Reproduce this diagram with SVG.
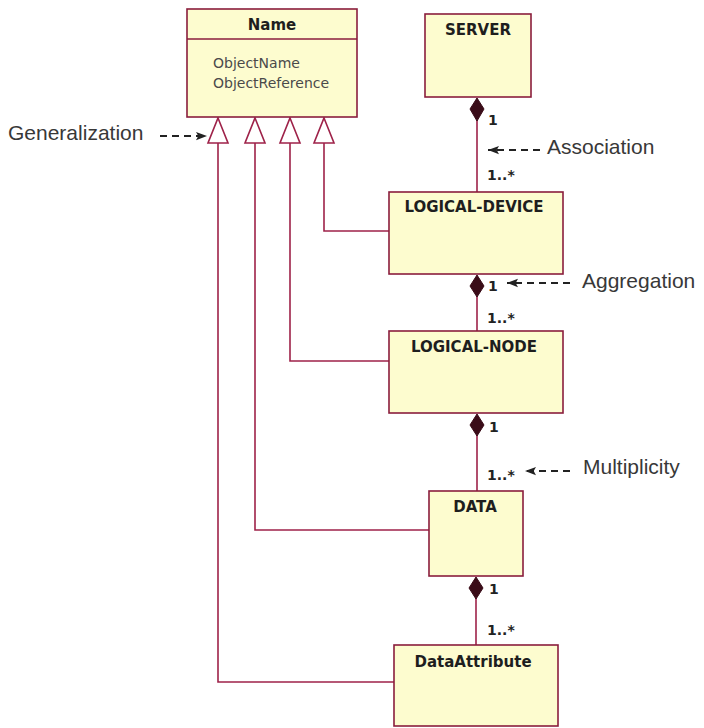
<svg xmlns="http://www.w3.org/2000/svg" width="704" height="728" viewBox="0 0 704 728">
  <defs>
    <style>
      .box { fill: #fdfccf; stroke: #8a1d3c; stroke-width: 1.6; }
      .title { font-family: "DejaVu Sans", "Liberation Sans", sans-serif; font-weight: bold; font-size: 15px; fill: #1e1e1e; text-anchor: middle; }
      .attr { font-family: "DejaVu Sans", "Liberation Sans", sans-serif; font-size: 14px; fill: #4a4a4a; }
      .link { fill: none; stroke: #9e2249; stroke-width: 1.6; }
      .tri { fill: #ffffff; stroke: #9e2249; stroke-width: 1.6; }
      .dia { fill: #3a0c18; stroke: #3a0c18; stroke-width: 1; }
      .mult { font-family: "DejaVu Sans", "Liberation Sans", sans-serif; font-weight: bold; font-size: 14px; fill: #222222; }
      .note { font-family: "Liberation Sans", Arial, sans-serif; font-size: 21px; fill: #383838; }
      .pointer { fill: none; stroke: #222222; stroke-width: 1.8; stroke-dasharray: 7 5; }
    </style>
    <marker id="head" viewBox="0 0 12 10" refX="12" refY="5" markerWidth="11" markerHeight="10" markerUnits="userSpaceOnUse" orient="auto">
      <path d="M0,0.5 L12,5 L0,9.5 L2.5,5 Z" fill="#222222"/>
    </marker>
  </defs>

  <rect width="704" height="728" fill="#ffffff"/>

  <!-- connectors -->
  <g id="connectors">
    <!-- generalization paths into Name -->
    <path class="link" d="M394,682 H218 V143"/>
    <path class="link" d="M429,530 H255 V143"/>
    <path class="link" d="M389,361 H290 V143"/>
    <path class="link" d="M389,231 H324 V143"/>
    <polygon class="tri" points="218,118 228,143 208,143"/>
    <polygon class="tri" points="255,118 265,143 245,143"/>
    <polygon class="tri" points="290,118 300,143 280,143"/>
    <polygon class="tri" points="324,118 334,143 314,143"/>

    <!-- composition: SERVER / LOGICAL-DEVICE -->
    <path class="link" d="M477,120 V192"/>
    <polygon class="dia" points="477,98 484,109 477,121 470,109"/>
    <text class="mult" x="488" y="125">1</text>
    <text class="mult" x="487" y="180">1..*</text>

    <!-- composition: LOGICAL-DEVICE / LOGICAL-NODE -->
    <path class="link" d="M477,296 V331"/>
    <polygon class="dia" points="477,275 484,286 477,297 470,286"/>
    <text class="mult" x="488" y="291">1</text>
    <text class="mult" x="487" y="323">1..*</text>

    <!-- composition: LOGICAL-NODE / DATA -->
    <path class="link" d="M477,435 V491"/>
    <polygon class="dia" points="477,414 484,425 477,436 470,425"/>
    <text class="mult" x="489" y="432">1</text>
    <text class="mult" x="487" y="480">1..*</text>

    <!-- composition: DATA / DataAttribute -->
    <path class="link" d="M476,598 V645"/>
    <polygon class="dia" points="476,577 483,588 476,599 469,588"/>
    <text class="mult" x="489" y="594">1</text>
    <text class="mult" x="487" y="635">1..*</text>
  </g>

  <!-- nodes -->
  <g id="name">
    <rect class="box" x="187" y="9" width="170" height="108"/>
    <line x1="187" y1="39" x2="357" y2="39" stroke="#8a1d3c" stroke-width="1.6"/>
    <text class="title" x="272" y="30">Name</text>
    <text class="attr" x="213" y="68">ObjectName</text>
    <text class="attr" x="213" y="88">ObjectReference</text>
  </g>

  <g id="server">
    <rect class="box" x="425" y="14" width="106" height="83"/>
    <text class="title" x="478" y="35">SERVER</text>
  </g>

  <g id="logical-device">
    <rect class="box" x="389" y="192" width="174" height="82"/>
    <text class="title" x="474" y="212">LOGICAL-DEVICE</text>
  </g>

  <g id="logical-node">
    <rect class="box" x="389" y="331" width="174" height="82"/>
    <text class="title" x="474" y="352">LOGICAL-NODE</text>
  </g>

  <g id="data">
    <rect class="box" x="429" y="491" width="94" height="85"/>
    <text class="title" x="475" y="512">DATA</text>
  </g>

  <g id="data-attribute">
    <rect class="box" x="394" y="645" width="164" height="81"/>
    <text class="title" x="473" y="667">DataAttribute</text>
  </g>

  <!-- explanatory labels -->
  <g id="notes">
    <text class="note" x="8" y="140">Generalization</text>
    <path class="pointer" d="M160,136 H207" marker-end="url(#head)"/>

    <text class="note" x="547" y="154">Association</text>
    <path class="pointer" d="M540,150 H488" marker-end="url(#head)"/>

    <text class="note" x="582" y="288">Aggregation</text>
    <path class="pointer" d="M570,283 H507" marker-end="url(#head)"/>

    <text class="note" x="583" y="474">Multiplicity</text>
    <path class="pointer" d="M570,471 H525" marker-end="url(#head)"/>
  </g>
</svg>
